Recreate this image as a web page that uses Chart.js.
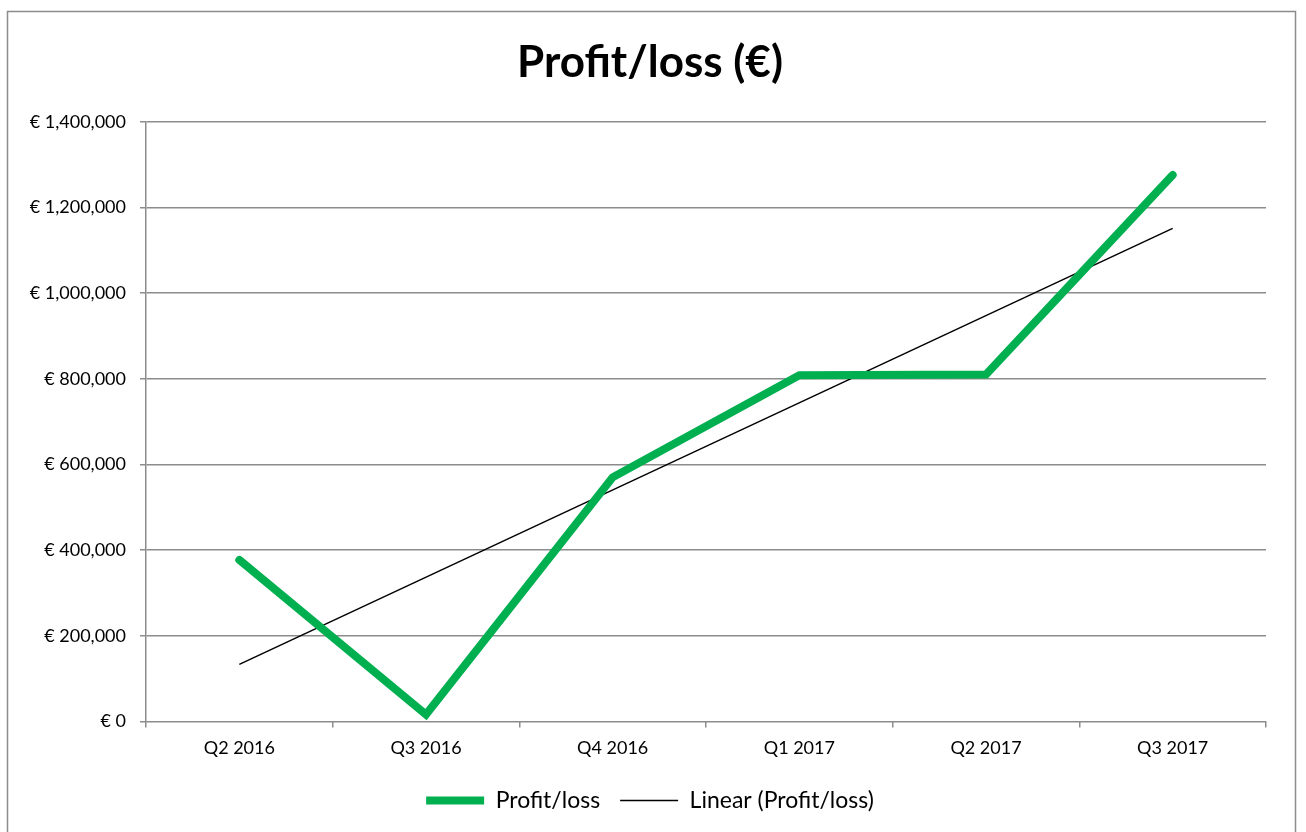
<!DOCTYPE html>
<html>
<head>
<meta charset="utf-8">
<script src="https://cdn.jsdelivr.net/npm/chart.js@4"></script>
<style>
  html, body { margin: 0; padding: 0; background: #fff; }
  #wrap { width: 1306px; height: 832px; }
</style>
</head>
<body>
<div id="wrap"><canvas id="mycanvas" width="1306" height="832"></canvas></div>
<script>
var quarters = ['Q2 2016', 'Q3 2016', 'Q4 2016', 'Q1 2017', 'Q2 2017', 'Q3 2017'];
var profitLoss = [377000, 16000, 570000, 808000, 810000, 1276000];
// trend line end points
var trendPoints = [
  { x: 'Q2 2016', y: 133000 },
  { x: 'Q3 2017', y: 1151000 }
];
var yTicks = [0, 200000, 400000, 600000, 800000, 1000000, 1200000, 1400000];

var fontFamily = "Lato, 'Open Sans', sans-serif";

var frame = {
  id: 'frame',
  beforeDraw: function(chart) {
    var c = chart.ctx;
    c.save();
    c.fillStyle = '#fff';
    c.fillRect(0, 0, chart.width, chart.height);
    c.strokeStyle = '#8c8c8c';
    c.lineWidth = 1.5;
    c.strokeRect(7.5, 11.5, 1288, 900);
    c.restore();
  }
};

var chartdata = {
  labels: quarters,
  datasets: [
    {
      label: 'Profit/loss',
      data: profitLoss,
      borderColor: '#00B050',
      backgroundColor: '#00B050',
      borderWidth: 8,
      borderCapStyle: 'round',
      borderJoinStyle: 'miter',
      pointRadius: 0,
      fill: false,
      tension: 0
    },
    {
      label: 'Linear (Profit/loss)',
      data: trendPoints,
      borderColor: '#000',
      backgroundColor: '#000',
      borderWidth: 1.5,
      pointRadius: 0,
      fill: false,
      tension: 0
    }
  ]
};

var ctx = document.getElementById('mycanvas');
var LineGraph = new Chart(ctx, {
  type: 'line',
  data: chartdata,
  plugins: [frame],
  options: {
    responsive: false,
    animation: false,
    layout: { padding: { left: 0, right: 6, top: 0, bottom: 10 } },
    plugins: {
      title: {
        display: true,
        text: 'Profit/loss (€)',
        color: '#000',
        font: { family: fontFamily, size: 44, weight: 'bold' },
        padding: { top: 36, bottom: 33 }
      },
      legend: {
        position: 'bottom',
        labels: {
          color: '#000',
          font: { family: fontFamily, size: 23 },
          usePointStyle: true,
          pointStyle: 'line',
          pointStyleWidth: 58,
          boxHeight: 8,
          padding: 20
        }
      },
      tooltip: { enabled: false }
    },
    scales: {
      x: {
        offset: true,
        grid: {
          offset: true,
          drawOnChartArea: false,
          drawTicks: true,
          tickLength: 6,
          color: '#8c8c8c',
          lineWidth: 1.5
        },
        border: { display: false },
        ticks: {
          color: '#000',
          font: { family: fontFamily, size: 18 },
          padding: 10,
          maxRotation: 0
        }
      },
      y: {
        min: 0,
        max: 1400000,
        afterBuildTicks: function(scale) {
          scale.ticks = yTicks.map(function(v) { return { value: v }; });
        },
        afterFit: function(scale) { scale.width = 146; },
        grid: {
          color: '#8c8c8c',
          lineWidth: 1.5,
          tickLength: 6
        },
        border: { display: true, color: '#8c8c8c', width: 1.5 },
        ticks: {
          color: '#000',
          font: { family: fontFamily, size: 18 },
          padding: 14,
          callback: function(v) { return '€ ' + v.toLocaleString('en-US'); }
        }
      },
      // empty right-hand spacer so the title and legend centre like the original
      yRight: {
        display: true,
        position: 'right',
        min: 0,
        max: 1,
        afterFit: function(scale) { scale.width = 34; },
        grid: { display: false },
        border: { display: false },
        ticks: { display: false }
      }
    }
  }
});
</script>
</body>
</html>
